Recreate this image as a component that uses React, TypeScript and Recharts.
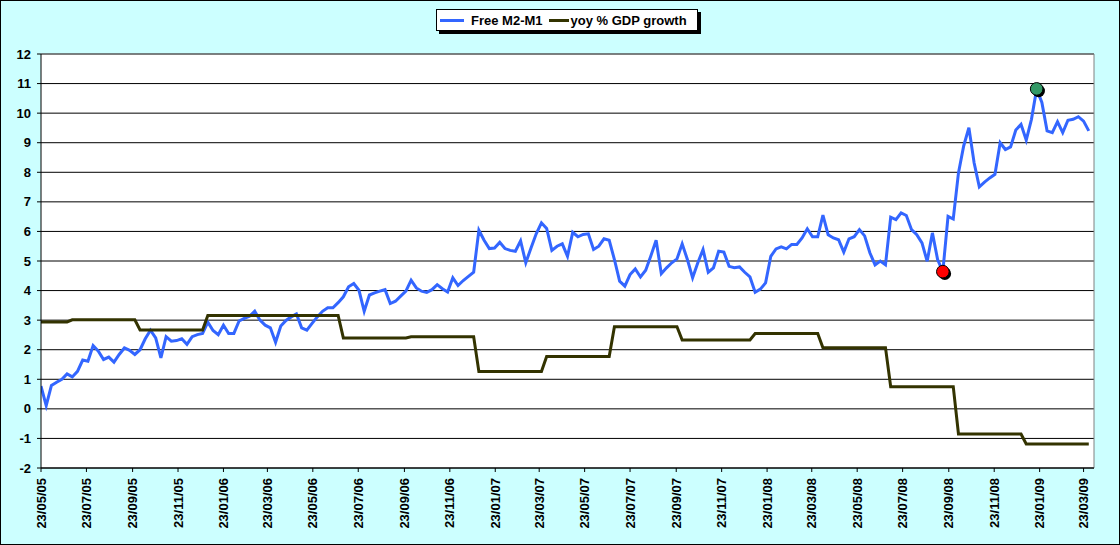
import { LineChart, Line, XAxis, YAxis, CartesianGrid, ReferenceLine, ReferenceDot } from 'recharts'

// weekly readings, first one on 23/05/05
const m2m1 = [
  0.77, 0.11, 0.79, 0.9, 1.0, 1.18, 1.08, 1.27, 1.65, 1.61,
  2.14, 1.95, 1.67, 1.75, 1.58, 1.84, 2.06, 1.98, 1.84, 2.0,
  2.37, 2.66, 2.4, 1.72, 2.44, 2.29, 2.31, 2.37, 2.18, 2.44,
  2.51, 2.55, 2.93, 2.65, 2.51, 2.83, 2.55, 2.55, 2.97, 3.06,
  3.13, 3.3, 3.0, 2.83, 2.74, 2.25, 2.8, 2.99, 3.11, 3.21,
  2.74, 2.66, 2.89, 3.11, 3.3, 3.42, 3.42, 3.59, 3.79, 4.13,
  4.24, 4.01, 3.3, 3.85, 3.92, 3.98, 4.03, 3.56, 3.64, 3.81,
  3.98, 4.35, 4.09, 3.98, 3.94, 4.03, 4.2, 4.06, 3.95, 4.43,
  4.17, 4.34, 4.48, 4.62, 6.04, 5.7, 5.42, 5.44, 5.63, 5.42,
  5.36, 5.33, 5.68, 4.94, 5.44, 5.92, 6.29, 6.1, 5.36, 5.5,
  5.58, 5.16, 5.97, 5.82, 5.9, 5.92, 5.39, 5.5, 5.75, 5.7,
  5.05, 4.32, 4.15, 4.54, 4.73, 4.46, 4.69, 5.18, 5.7, 4.57,
  4.77, 4.94, 5.07, 5.58, 5.05, 4.43, 4.94, 5.39, 4.62, 4.77,
  5.33, 5.3, 4.82, 4.77, 4.8, 4.62, 4.46, 3.94, 4.05, 4.26,
  5.16, 5.41, 5.48, 5.41, 5.56, 5.56, 5.78, 6.09, 5.82, 5.82,
  6.55, 5.89, 5.78, 5.72, 5.3, 5.75, 5.82, 6.06, 5.85, 5.28,
  4.87, 5.0, 4.87, 6.48, 6.4, 6.63, 6.54, 6.06, 5.89, 5.61,
  4.99, 5.95, 5.05, 4.64, 6.51, 6.42, 7.98, 8.89, 9.51, 8.32,
  7.51, 7.67, 7.81, 7.93, 9.0, 8.77, 8.86, 9.43, 9.62, 9.09,
  9.79, 10.82, 10.36, 9.4, 9.34, 9.71, 9.34, 9.76, 9.79, 9.88,
  9.73, 9.4,
]

const gdpGrowth = [
  2.94, 2.94, 2.94, 2.94, 2.94, 2.94,
  3.01, 3.01, 3.01, 3.01, 3.01, 3.01, 3.01, 3.01, 3.01, 3.01, 3.01, 3.01, 3.01,
  2.67, 2.67, 2.67, 2.67, 2.67, 2.67, 2.67, 2.67, 2.67, 2.67, 2.67, 2.67, 2.67,
  3.16, 3.16, 3.16, 3.16, 3.16, 3.16, 3.16, 3.16, 3.16, 3.16, 3.16, 3.16, 3.16,
  3.16, 3.16, 3.16, 3.16, 3.16, 3.16, 3.16, 3.16, 3.16, 3.16, 3.16, 3.16, 3.16,
  2.4, 2.4, 2.4, 2.4, 2.4, 2.4, 2.4, 2.4, 2.4, 2.4, 2.4, 2.4, 2.4,
  2.44, 2.44, 2.44, 2.44, 2.44, 2.44, 2.44, 2.44, 2.44, 2.44, 2.44, 2.44, 2.44,
  1.26, 1.26, 1.26, 1.26, 1.26, 1.26, 1.26, 1.26, 1.26, 1.26, 1.26, 1.26, 1.26,
  1.77, 1.77, 1.77, 1.77, 1.77, 1.77, 1.77, 1.77, 1.77, 1.77, 1.77, 1.77, 1.77,
  2.78, 2.78, 2.78, 2.78, 2.78, 2.78, 2.78, 2.78, 2.78, 2.78, 2.78, 2.78, 2.78,
  2.33, 2.33, 2.33, 2.33, 2.33, 2.33, 2.33, 2.33, 2.33, 2.33, 2.33, 2.33, 2.33, 2.33,
  2.55, 2.55, 2.55, 2.55, 2.55, 2.55, 2.55, 2.55, 2.55, 2.55, 2.55, 2.55, 2.55,
  2.07, 2.07, 2.07, 2.07, 2.07, 2.07, 2.07, 2.07, 2.07, 2.07, 2.07, 2.07, 2.07,
  0.75, 0.75, 0.75, 0.75, 0.75, 0.75, 0.75, 0.75, 0.75, 0.75, 0.75, 0.75, 0.75,
  -0.85, -0.85, -0.85, -0.85, -0.85, -0.85, -0.85, -0.85, -0.85, -0.85, -0.85, -0.85, -0.85,
  -1.19, -1.19, -1.19, -1.19, -1.19, -1.19, -1.19, -1.19, -1.19, -1.19, -1.19, -1.19, -1.19,
]

const xTickLabels = [
  '23/05/05', '23/07/05', '23/09/05', '23/11/05', '23/01/06', '23/03/06',
  '23/05/06', '23/07/06', '23/09/06', '23/11/06', '23/01/07', '23/03/07',
  '23/05/07', '23/07/07', '23/09/07', '23/11/07', '23/01/08', '23/03/08',
  '23/05/08', '23/07/08', '23/09/08', '23/11/08', '23/01/09', '23/03/09',
]
const yTicks = [-2, -1, 0, 1, 2, 3, 4, 5, 6, 7, 8, 9, 10, 11, 12]

// the two marked weeks: the dip before the jump and the peak
const lowWeek = 173
const highWeek = 191

const FONT = "Arial, 'Liberation Sans', sans-serif"
const PAGE_BG = '#ccffff'

// days since the first reading
const toDay = (label: string) => {
  const [d, m, y] = label.split('/').map(Number)
  return (Date.UTC(2000 + y, m - 1, d) - Date.UTC(2005, 4, 23)) / 86400000
}
const tickDays = xTickLabels.map(toDay)
const labelByDay: Record<number, string> = {}
xTickLabels.forEach((l, i) => { labelByDay[tickDays[i]] = l })

const data = m2m1.map((v, i) => ({ day: i * 7, m2m1: v, gdp: gdpGrowth[i] }))

const DateTick = ({ x, y, payload }: any) => (
  <text
    x={x}
    y={y}
    dy="0.35em"
    transform={`rotate(-90, ${x}, ${y})`}
    textAnchor="end"
    fontSize={13}
    fontWeight="bold"
    fontFamily={FONT}
    fill="#000"
  >
    {labelByDay[payload.value]}
  </text>
)

const marker = (color: string) => (props: any) => (
  <g>
    <circle cx={props.cx + 2} cy={props.cy + 2} r={6.3} fill="#000" />
    <circle cx={props.cx} cy={props.cy} r={6.3} fill={color} stroke="#000" strokeWidth={1} />
  </g>
)

export default function App() {
  return (
    <div style={{ position: 'absolute', left: 0, top: 0, width: 1120, height: 545, fontFamily: FONT }}>
      {/* chart-area fill and frame, drawn as svg so it sits behind the chart */}
      <svg width={1120} height={545} style={{ position: 'absolute', left: 0, top: 0 }}>
        <rect x={0.5} y={0.5} width={1119} height={544} fill={PAGE_BG} stroke="#000" strokeWidth={1} />
      </svg>
      <div style={{ position: 'absolute', left: 1, top: 1 }}>
        <LineChart width={1118} height={543} data={data} margin={{ top: 53, right: 25, left: 0, bottom: 0 }}>
          <CartesianGrid vertical={false} stroke="#000" fill="#fff" fillOpacity={1} />
          <XAxis
            type="number"
            dataKey="day"
            domain={[0, 1414]}
            ticks={tickDays}
            interval={0}
            tick={<DateTick />}
            tickSize={4}
            tickMargin={6}
            height={76}
            axisLine={{ stroke: '#000' }}
            tickLine={{ stroke: '#000' }}
            allowDataOverflow
          />
          <YAxis
            domain={[-2, 12]}
            ticks={yTicks}
            interval={0}
            width={40}
            tickSize={4}
            tickMargin={6}
            axisLine={{ stroke: '#000' }}
            tickLine={{ stroke: '#000' }}
            tick={{ fontSize: 13, fontWeight: 'bold', fill: '#000', fontFamily: FONT }}
          />
          <ReferenceLine y={12} stroke="#808080" />
          <ReferenceLine x={1414} stroke="#808080" />
          <Line type="linear" dataKey="m2m1" stroke="#3366ff" strokeWidth={3} dot={false} isAnimationActive={false} />
          <Line type="linear" dataKey="gdp" stroke="#333300" strokeWidth={3} dot={false} isAnimationActive={false} />
          <ReferenceDot x={data[lowWeek].day} y={m2m1[lowWeek]} r={6} shape={marker('#ff0000')} />
          <ReferenceDot x={data[highWeek].day} y={m2m1[highWeek]} r={6} shape={marker('#339966')} />
        </LineChart>
      </div>
      <div
        style={{
          position: 'absolute', left: 436, top: 9, width: 262, height: 22,
          boxSizing: 'border-box', border: '1px solid #000', background: '#fff',
          boxShadow: '3px 3px 0 #000', display: 'flex', alignItems: 'center',
          fontSize: 13, fontWeight: 'bold', whiteSpace: 'nowrap',
        }}
      >
        <span style={{ display: 'inline-block', width: 24, height: 3, background: '#3366ff', marginLeft: 3, marginRight: 7 }} />
        <span>Free M2-M1</span>
        <span style={{ display: 'inline-block', width: 20, height: 3, background: '#333300', marginLeft: 6, marginRight: 2 }} />
        <span>yoy % GDP growth</span>
      </div>
    </div>
  )
}
